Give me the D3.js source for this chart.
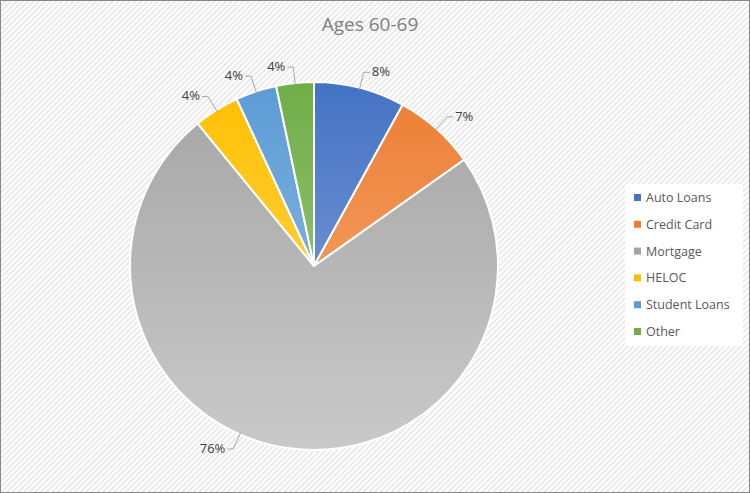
<!DOCTYPE html>
<html><head><meta charset="utf-8">
<script src="https://cdn.jsdelivr.net/npm/d3@7"></script>
<style>body{margin:0}svg{display:block}</style>
</head><body>
<svg id="chart"></svg>
<script>
const categories = ["Auto Loans", "Credit Card", "Mortgage", "HELOC", "Student Loans", "Other"];
const values = [8.0, 7.2, 73.9, 4.0, 3.6, 3.3];
const labels = ["8%", "7%", "76%", "4%", "4%", "4%"];
const colors = ["#4472c4", "#ed7d31", "#a5a5a5", "#ffc000", "#5b9bd5", "#70ad47"];
const lightColors = ["#8faadc", "#f4b183", "#c9c9c9", "#ffd966", "#9dc3e6", "#a9d18e"];

const W = 750, H = 493, cx = 314, cy = 266, r = 184;
const svg = d3.select("#chart").attr("width", W).attr("height", H);
const defs = svg.append("defs");

const pat = defs.append("pattern").attr("id", "hatch").attr("patternUnits", "userSpaceOnUse")
    .attr("width", 4).attr("height", 4).attr("patternTransform", "rotate(45)");
pat.append("rect").attr("width", 4).attr("height", 4).attr("fill", "#fff");
pat.append("rect").attr("width", 1.5).attr("height", 4).attr("fill", "#e4e4e4");

svg.append("rect").attr("x", 0.5).attr("y", 0.5).attr("width", W - 1).attr("height", H - 1)
    .attr("fill", "url(#hatch)").attr("stroke", "#888");

// vertical gradients in the pie group's coordinates
colors.forEach((c, i) => {
    const g = defs.append("linearGradient").attr("id", "g" + i)
        .attr("gradientUnits", "userSpaceOnUse").attr("x1", 0).attr("y1", -r).attr("x2", 0).attr("y2", r);
    g.append("stop").attr("offset", 0).attr("stop-color", c);
    g.append("stop").attr("offset", 1).attr("stop-color", lightColors[i]);
});

svg.append("text").attr("x", cx + 56).attr("y", 31).attr("text-anchor", "middle")
    .style("font-family", "Open Sans, sans-serif").style("font-size", "19px").attr("fill", "#7f7f7f")
    .text("Ages 60-69");

const pie = d3.pie().sort(null).value(d => d.v);
const data = pie(categories.map((c, i) => ({ c, v: values[i], i })));
const arc = d3.arc().innerRadius(0).outerRadius(r);

const g = svg.append("g").attr("transform", `translate(${cx},${cy})`);
g.selectAll("path").data(data).enter().append("path")
    .attr("d", arc).attr("fill", d => `url(#g${d.data.i})`)
    .attr("stroke", "#fff").attr("stroke-width", 2);

const pt = (a, rad) => [Math.sin(a) * rad, -Math.cos(a) * rad];
data.forEach((d, i) => {
    const a = (d.startAngle + d.endAngle) / 2 + (i === 2 ? 0.28 : 0);
    const p0 = pt(a, r - 2), p1 = pt(a, r + 16);
    const right = Math.sin(a) >= 0;
    const p2 = [p1[0] + (right ? 6 : -6), p1[1]];
    g.append("polyline").attr("points", [p0, p1, p2].map(p => p.join(",")).join(" "))
        .attr("fill", "none").attr("stroke", "#a6a6a6");
    g.append("text").attr("x", p2[0] + (right ? 2 : -2)).attr("y", p2[1] + 4)
        .attr("text-anchor", right ? "start" : "end")
        .style("font-family", "Open Sans, sans-serif").style("font-size", "13px").attr("fill", "#404040")
        .text(labels[i]);
});

const leg = svg.append("g").attr("transform", "translate(625,184)");
leg.append("rect").attr("x", 0).attr("y", 0).attr("width", 118).attr("height", 162).attr("fill", "#fff");
categories.forEach((c, i) => {
    const y = 14 + i * 26.8;
    leg.append("rect").attr("x", 9).attr("y", y - 4).attr("width", 7).attr("height", 7).attr("fill", colors[i]);
    leg.append("text").attr("x", 21).attr("y", y + 4)
        .style("font-family", "Open Sans, sans-serif").style("font-size", "12.5px").attr("fill", "#595959").text(c);
});
</script>
</body></html>
